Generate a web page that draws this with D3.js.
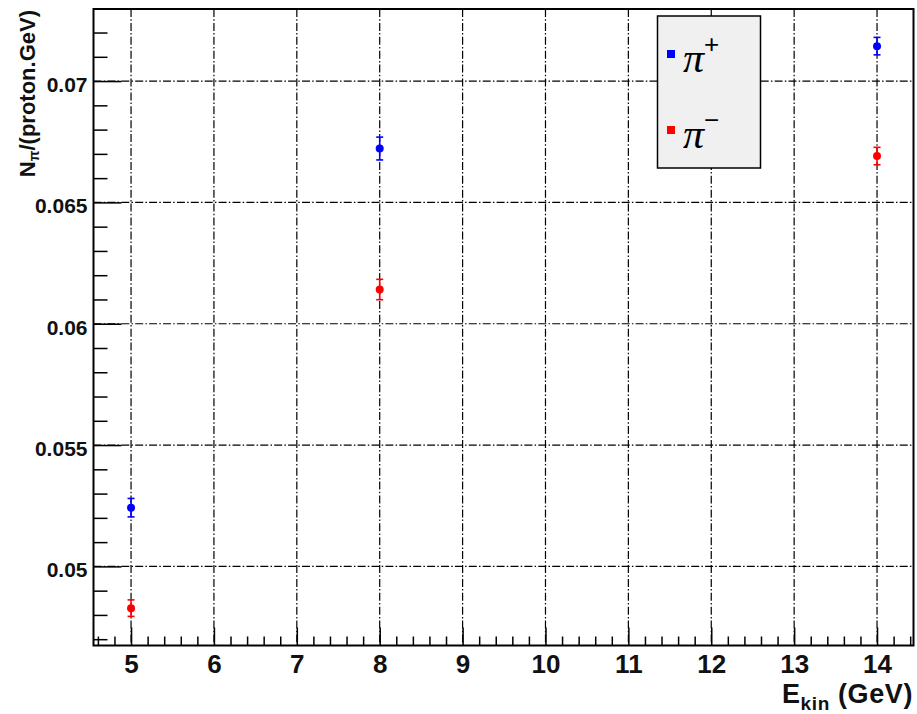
<!DOCTYPE html>
<html>
<head>
<meta charset="utf-8">
<script src="https://cdn.jsdelivr.net/npm/d3@7"></script>
<style>
body { margin: 0; background: #fff; }
</style>
</head>
<body>
<div id="chart-area"></div>
<script>
// beam energies (GeV) and pion yields per proton per GeV
var energies = [5, 8, 14];
var piPlus = [0.05242, 0.06722, 0.07144];
var piPlusErr = [0.00038, 0.00047, 0.00036];
var piMinus = [0.04828, 0.06141, 0.06691];
var piMinusErr = [0.00034, 0.00042, 0.00036];

var xTicks = [5, 6, 7, 8, 9, 10, 11, 12, 13, 14];
var yTicks = [0.05, 0.055, 0.06, 0.065, 0.07];

var width = 917;
var height = 714;
var frameL = 93.5, frameT = 9, frameR = 913.5, frameB = 645.5;

var svg = d3.select("#chart-area")
    .append("svg")
    .attr("width", width)
    .attr("height", height);

var x = d3.scaleLinear()
    .domain([4.547, 14.44])
    .range([frameL, frameR]);

var y = d3.scaleLinear()
    .domain([0.04674, 0.07297])
    .range([frameB, frameT]);

var dash = "8,2.2,1.5,2.2";

// grid
svg.selectAll(".vgrid")
    .data(xTicks)
    .enter()
    .append("line")
    .attr("x1", function(d) { return x(d); })
    .attr("x2", function(d) { return x(d); })
    .attr("y1", frameT)
    .attr("y2", frameB)
    .attr("stroke", "#000")
    .attr("stroke-width", 1.2)
    .attr("stroke-dasharray", dash);

svg.selectAll(".hgrid")
    .data(yTicks)
    .enter()
    .append("line")
    .attr("x1", frameL)
    .attr("x2", frameR)
    .attr("y1", function(d) { return y(d); })
    .attr("y2", function(d) { return y(d); })
    .attr("stroke", "#000")
    .attr("stroke-width", 1.2)
    .attr("stroke-dasharray", dash);

// axes (ticks pointing inside)
var xMinor = d3.range(4.6, 14.45, 0.2).filter(function(v) {
    return Math.abs(v - Math.round(v)) > 0.01;
});
var yMinor = d3.range(0.047, 0.0725, 0.001).filter(function(v) {
    return Math.abs(v * 200 - Math.round(v * 200)) > 0.01;
});

var xAxis = svg.append("g")
    .attr("transform", "translate(0," + frameB + ")")
    .call(d3.axisBottom(x).tickValues(xTicks).tickSizeInner(-18).tickSizeOuter(0).tickPadding(9)
        .tickFormat(d3.format("d")));
svg.append("g")
    .attr("transform", "translate(0," + frameB + ")")
    .call(d3.axisBottom(x).tickValues(xMinor).tickSizeInner(-9).tickSizeOuter(0).tickFormat(""));

var yAxis = svg.append("g")
    .attr("transform", "translate(" + frameL + ",0)")
    .call(d3.axisLeft(y).tickValues(yTicks).tickSizeInner(-28).tickSizeOuter(0).tickPadding(6)
        .tickFormat(function(d) { return String(+d.toFixed(3)); }));
svg.append("g")
    .attr("transform", "translate(" + frameL + ",0)")
    .call(d3.axisLeft(y).tickValues(yMinor).tickSizeInner(-14).tickSizeOuter(0).tickFormat(""));

svg.selectAll(".domain").remove();
svg.selectAll(".tick line").attr("stroke", "#000").attr("stroke-width", 1.5);

xAxis.selectAll("text")
    .attr("font-family", "Liberation Sans, Arial, sans-serif")
    .attr("font-size", 26)
    .attr("font-weight", "bold")
    .attr("fill", "#111");
yAxis.selectAll("text")
    .attr("font-family", "Liberation Sans, Arial, sans-serif")
    .attr("font-size", 21)
    .attr("font-weight", "bold")
    .attr("fill", "#111")
    .attr("dy", "0.5em");

// frame
svg.append("rect")
    .attr("x", frameL)
    .attr("y", frameT)
    .attr("width", frameR - frameL)
    .attr("height", frameB - frameT)
    .attr("fill", "none")
    .attr("stroke", "#000")
    .attr("stroke-width", 2);

// points with error bars
function drawSeries(vals, errs, color) {
    var g = svg.append("g");
    var cap = 3.5;
    energies.forEach(function(e, i) {
        var cx = x(e);
        var y1 = y(vals[i] - errs[i]);
        var y2 = y(vals[i] + errs[i]);
        g.append("line").attr("x1", cx).attr("x2", cx).attr("y1", y1).attr("y2", y2)
            .attr("stroke", color).attr("stroke-width", 1.6);
        g.append("line").attr("x1", cx - cap).attr("x2", cx + cap).attr("y1", y1).attr("y2", y1)
            .attr("stroke", color).attr("stroke-width", 1.6);
        g.append("line").attr("x1", cx - cap).attr("x2", cx + cap).attr("y1", y2).attr("y2", y2)
            .attr("stroke", color).attr("stroke-width", 1.6);
        g.append("circle").attr("cx", cx).attr("cy", y(vals[i])).attr("r", 4)
            .attr("fill", color);
    });
}
drawSeries(piPlus, piPlusErr, "#0000ff");
drawSeries(piMinus, piMinusErr, "#ff0000");

// legend
var legend = svg.append("g");
legend.append("rect")
    .attr("x", 657.5)
    .attr("y", 16)
    .attr("width", 103)
    .attr("height", 152)
    .attr("fill", "#f0f0f0")
    .attr("stroke", "#000")
    .attr("stroke-width", 1.5);

var legendItems = [
    { color: "#0000ff", sign: "+", y: 54 },
    { color: "#ff0000", sign: "\u2212", y: 130 }
];
legendItems.forEach(function(d) {
    legend.append("rect")
        .attr("x", 667)
        .attr("y", d.y - 4)
        .attr("width", 8)
        .attr("height", 8)
        .attr("fill", d.color);
    var t = legend.append("text")
        .attr("x", 683)
        .attr("y", d.y + 18)
        .attr("font-family", "Liberation Serif, Times New Roman, serif")
        .attr("font-style", "italic")
        .attr("font-size", 42)
        .attr("fill", "#000");
    t.append("tspan").text("\u03c0");
    t.append("tspan")
        .attr("font-size", 26)
        .attr("font-style", "normal")
        .attr("dy", -19)
        .attr("font-family", "Liberation Sans, Arial, sans-serif")
        .text(d.sign);
});

// axis titles
var xt = svg.append("text")
    .attr("x", 913)
    .attr("y", 703)
    .attr("text-anchor", "end")
    .attr("font-family", "Liberation Sans, Arial, sans-serif")
    .attr("font-size", 27)
    .attr("font-weight", "bold")
    .attr("letter-spacing", 0.6)
    .attr("fill", "#111");
xt.append("tspan").text("E");
xt.append("tspan").attr("font-size", 19).attr("dy", 7).text("kin");
xt.append("tspan").attr("dy", -7).text(" (GeV)");

var yt = svg.append("text")
    .attr("transform", "translate(35,10) rotate(-90)")
    .attr("text-anchor", "end")
    .attr("font-family", "Liberation Sans, Arial, sans-serif")
    .attr("font-size", 22)
    .attr("font-weight", "bold")
    .attr("fill", "#111");
yt.append("tspan").text("N");
yt.append("tspan").attr("font-size", 14).attr("dy", 4).text("\u03c0");
yt.append("tspan").attr("dy", -4).text("/(proton.GeV)");
</script>
</body>
</html>
